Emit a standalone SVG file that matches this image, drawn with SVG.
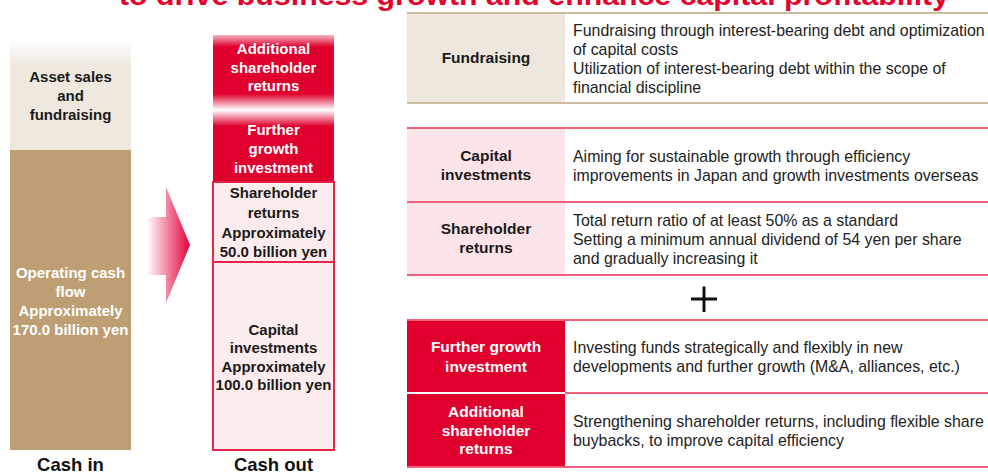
<svg xmlns="http://www.w3.org/2000/svg" width="988" height="473" viewBox="0 0 988 473">
  <defs>
    <style>
      text { font-family: "Liberation Sans", Arial, sans-serif; }
      .title { font-size: 27px; font-weight: bold; fill: #E4002B; }
      .colb { font-size: 15px; font-weight: bold; text-anchor: middle; }
      .dark { fill: #1a1a1a; }
      .white { fill: #ffffff; }
      .foot { font-size: 18.5px; font-weight: bold; text-anchor: middle; fill: #111; }
      .lbl { font-size: 15.5px; font-weight: bold; text-anchor: middle; }
      .desc { font-size: 15.9px; fill: #222; }
      .pinkline { stroke: #F0607A; stroke-width: 2; }
      .tanline { stroke: #CDBBA2; stroke-width: 2; }
      .outbox { fill: #FDECEE; stroke: #E5264A; stroke-width: 2; }
    </style>
    <linearGradient id="beigeFade" x1="0" y1="0" x2="0" y2="1">
      <stop offset="0" stop-color="#FFFFFF"/>
      <stop offset="0.22" stop-color="#EFE8DF"/>
      <stop offset="1" stop-color="#EFE8DF"/>
    </linearGradient>
    <linearGradient id="redBands" x1="0" y1="0" x2="0" y2="1">
      <stop offset="0" stop-color="#F6B3C1"/>
      <stop offset="0.08" stop-color="#E0002D"/>
      <stop offset="0.40" stop-color="#E0002D"/>
      <stop offset="0.51" stop-color="#FFFFFF"/>
      <stop offset="0.62" stop-color="#E0002D"/>
      <stop offset="1" stop-color="#E0002D"/>
    </linearGradient>
    <linearGradient id="arrowFade" x1="147" y1="0" x2="190" y2="0" gradientUnits="userSpaceOnUse">
      <stop offset="0" stop-color="#FFFFFF"/>
      <stop offset="1" stop-color="#E2003A"/>
    </linearGradient>
  </defs>

  <rect width="988" height="473" fill="#ffffff"/>

  <!-- heading (upper part runs off the top edge) -->
  <text class="title" x="119" y="5" textLength="830" lengthAdjust="spacingAndGlyphs">to drive business growth and enhance capital profitability</text>

  <!-- Cash in column -->
  <g id="cash-in">
    <rect x="10" y="40" width="121" height="110" fill="url(#beigeFade)"/>
    <rect x="10" y="150" width="121" height="300" fill="#BE9E73"/>
    <text class="colb dark" x="70.5" y="82">Asset sales</text>
    <text class="colb dark" x="70.5" y="101">and</text>
    <text class="colb dark" x="70.5" y="120">fundraising</text>
    <text class="colb white" x="70.5" y="277.5">Operating cash</text>
    <text class="colb white" x="70.5" y="296.5">flow</text>
    <text class="colb white" x="70.5" y="315.5">Approximately</text>
    <text class="colb white" x="70.5" y="334.5">170.0 billion yen</text>
    <text class="foot" x="70.5" y="471">Cash in</text>
  </g>

  <!-- flow arrow -->
  <g id="flow-arrow">
    <polygon points="147,217 166,217 166,187 190,245 166,303 166,275 147,275" fill="url(#arrowFade)"/>
  </g>

  <!-- Cash out column -->
  <g id="cash-out">
    <rect x="213" y="35" width="121" height="147" fill="url(#redBands)"/>
    <text class="colb white" x="273.5" y="54">Additional</text>
    <text class="colb white" x="273.5" y="73">shareholder</text>
    <text class="colb white" x="273.5" y="91">returns</text>
    <text class="colb white" x="273.5" y="135">Further</text>
    <text class="colb white" x="273.5" y="154">growth</text>
    <text class="colb white" x="273.5" y="173">investment</text>
    <rect class="outbox" x="213" y="182" width="121" height="80"/>
    <text class="colb dark" x="273.5" y="198">Shareholder</text>
    <text class="colb dark" x="273.5" y="218">returns</text>
    <text class="colb dark" x="273.5" y="238">Approximately</text>
    <text class="colb dark" x="273.5" y="257">50.0 billion yen</text>
    <rect class="outbox" x="213" y="262" width="121" height="188"/>
    <text class="colb dark" x="273.5" y="335">Capital</text>
    <text class="colb dark" x="273.5" y="353">investments</text>
    <text class="colb dark" x="273.5" y="372">Approximately</text>
    <text class="colb dark" x="273.5" y="390">100.0 billion yen</text>
    <text class="foot" x="273.5" y="471">Cash out</text>
  </g>

  <!-- Policy table -->
  <g id="row-fundraising">
    <rect x="407" y="13" width="158" height="90" fill="#EEE7DD"/>
    <line class="tanline" x1="407" y1="13" x2="988" y2="13"/>
    <line class="tanline" x1="407" y1="103" x2="988" y2="103"/>
    <text class="lbl dark" x="486" y="63">Fundraising</text>
    <text class="desc" x="573" y="35.5">Fundraising through interest-bearing debt and optimization</text>
    <text class="desc" x="573" y="54.5">of capital costs</text>
    <text class="desc" x="573" y="73.5">Utilization of interest-bearing debt within the scope of</text>
    <text class="desc" x="573" y="92.5">financial discipline</text>
  </g>

  <g id="row-capital">
    <rect x="407" y="128" width="158" height="74" fill="#FDE4E8"/>
    <line class="pinkline" x1="407" y1="128" x2="988" y2="128"/>
    <text class="lbl dark" x="486" y="161">Capital</text>
    <text class="lbl dark" x="486" y="180">investments</text>
    <text class="desc" x="573" y="161.5">Aiming for sustainable growth through efficiency</text>
    <text class="desc" x="573" y="180.5">improvements in Japan and growth investments overseas</text>
  </g>

  <g id="row-shareholder">
    <rect x="407" y="202" width="158" height="73" fill="#FDE4E8"/>
    <line class="pinkline" x1="407" y1="202" x2="988" y2="202"/>
    <line class="pinkline" x1="407" y1="275" x2="988" y2="275"/>
    <text class="lbl dark" x="486" y="234">Shareholder</text>
    <text class="lbl dark" x="486" y="253">returns</text>
    <text class="desc" x="573" y="225.5">Total return ratio of at least 50% as a standard</text>
    <text class="desc" x="573" y="244.5">Setting a minimum annual dividend of 54 yen per share</text>
    <text class="desc" x="573" y="264">and gradually increasing it</text>
  </g>

  <g id="plus">
    <line x1="691" y1="299" x2="717" y2="299" stroke="#111" stroke-width="3"/>
    <line x1="704" y1="286.5" x2="704" y2="312" stroke="#111" stroke-width="3"/>
  </g>

  <g id="row-further-growth">
    <line class="pinkline" x1="407" y1="320" x2="988" y2="320"/>
    <rect x="407" y="321" width="158" height="71" fill="#E0002D"/>
    <text class="lbl white" x="486" y="352">Further growth</text>
    <text class="lbl white" x="486" y="372">investment</text>
    <text class="desc" x="573" y="352.5">Investing funds strategically and flexibly in new</text>
    <text class="desc" x="573" y="371.5">developments and further growth (M&amp;A, alliances, etc.)</text>
  </g>

  <g id="row-additional-returns">
    <line class="pinkline" x1="565" y1="393" x2="988" y2="393"/>
    <rect x="407" y="394" width="158" height="72" fill="#E0002D"/>
    <line class="pinkline" x1="407" y1="467" x2="988" y2="467"/>
    <text class="lbl white" x="486" y="417">Additional</text>
    <text class="lbl white" x="486" y="436">shareholder</text>
    <text class="lbl white" x="486" y="454">returns</text>
    <text class="desc" x="573" y="426.5">Strengthening shareholder returns, including flexible share</text>
    <text class="desc" x="573" y="445.5">buybacks, to improve capital efficiency</text>
  </g>
</svg>
